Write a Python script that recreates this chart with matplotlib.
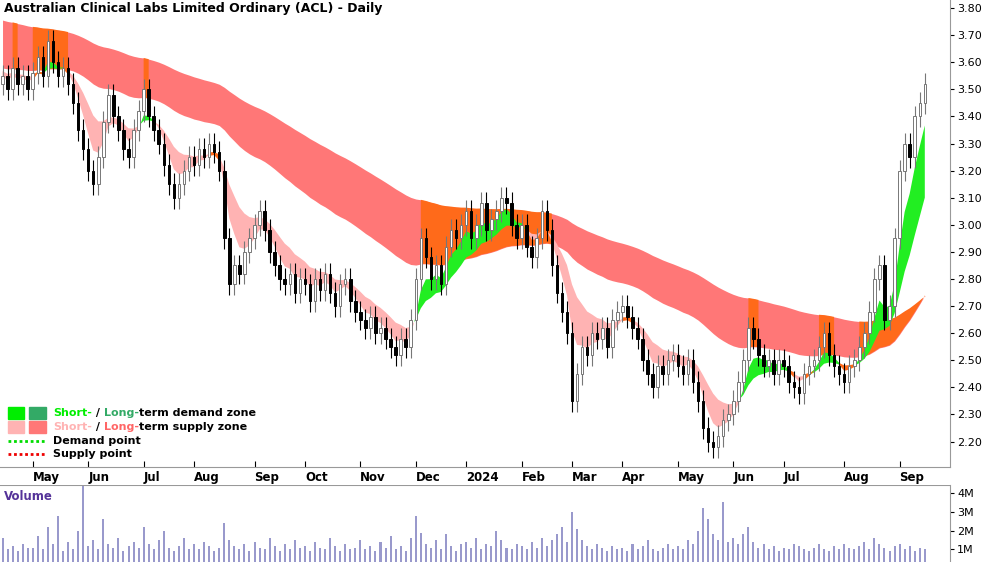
import numpy as np
import pandas as pd
import matplotlib
matplotlib.use('Agg')
import matplotlib.pyplot as plt
from matplotlib.patches import Rectangle

months = ['Apr', 'May', 'Jun', 'Jul', 'Aug', 'Sep', 'Oct', 'Nov', 'Dec', '2024',
          'Feb', 'Mar', 'Apr', 'May', 'Jun', 'Jul', 'Aug', 'Sep']
closes_by_month = [
    [3.55, 3.50, 3.58, 3.52, 3.55, 3.50],
    [3.56, 3.62, 3.55, 3.68, 3.60, 3.55, 3.58, 3.52, 3.45, 3.35, 3.28],
    [3.20, 3.15, 3.25, 3.38, 3.48, 3.40, 3.35, 3.28, 3.25, 3.35, 3.42],
    [3.50, 3.40, 3.35, 3.30, 3.22, 3.15, 3.10, 3.15, 3.20, 3.25],
    [3.22, 3.28, 3.25, 3.30, 3.27, 3.20, 2.95, 2.78, 2.85, 2.82, 2.90, 2.95],
    [3.00, 3.05, 2.98, 2.90, 2.85, 2.80, 2.78, 2.82, 2.75, 2.80],
    [2.78, 2.72, 2.80, 2.76, 2.82, 2.75, 2.70, 2.78, 2.80, 2.72, 2.68],
    [2.65, 2.62, 2.66, 2.60, 2.62, 2.58, 2.55, 2.52, 2.58, 2.55, 2.65],
    [2.80, 2.95, 2.88, 2.80, 2.85, 2.78, 2.92, 2.98, 2.95, 3.00],
    [3.05, 2.95, 3.00, 3.08, 2.98, 3.02, 3.05, 3.10, 3.08, 3.00, 2.95],
    [3.00, 2.92, 2.88, 2.95, 3.05, 2.98, 2.85, 2.75, 2.68, 2.60],
    [2.35, 2.45, 2.55, 2.52, 2.60, 2.58, 2.62, 2.55, 2.65, 2.68],
    [2.70, 2.66, 2.62, 2.58, 2.50, 2.45, 2.40, 2.48, 2.45, 2.50, 2.52],
    [2.48, 2.45, 2.50, 2.42, 2.35, 2.25, 2.20, 2.18, 2.22, 2.28, 2.30],
    [2.35, 2.42, 2.50, 2.62, 2.58, 2.52, 2.48, 2.50, 2.45, 2.50],
    [2.48, 2.42, 2.40, 2.38, 2.45, 2.48, 2.50, 2.55, 2.60, 2.52, 2.48, 2.45],
    [2.42, 2.48, 2.50, 2.55, 2.60, 2.68, 2.80, 2.85, 2.65, 2.70, 2.95],
    [3.20, 3.30, 3.25, 3.40, 3.45, 3.52],
]
volume_by_month = [
    [1.6, 1.0, 1.2, 0.9, 1.3, 1.1],
    [1.1, 1.7, 1.0, 2.2, 1.3, 2.8, 0.9, 1.4, 1.0, 2.0, 4.5],
    [1.2, 1.5, 1.0, 2.6, 1.3, 1.1, 1.6, 0.9, 1.2, 1.4, 1.1],
    [2.2, 1.3, 1.0, 1.5, 2.0, 1.1, 0.9, 1.2, 1.6, 1.0],
    [1.3, 1.0, 1.4, 1.2, 0.9, 1.1, 2.4, 1.5, 1.2, 1.0, 1.3, 0.9],
    [1.4, 1.1, 1.0, 1.6, 1.2, 0.9, 1.3, 1.0, 1.5, 1.1],
    [1.2, 0.9, 1.4, 1.1, 1.0, 1.6, 1.2, 0.9, 1.3, 1.0, 1.1],
    [1.5, 1.0, 1.2, 0.9, 1.4, 1.1, 1.7, 1.0, 1.2, 0.9, 1.6],
    [2.8, 1.9, 1.3, 1.1, 1.5, 1.0, 1.8, 1.2, 0.9, 1.3],
    [1.4, 1.1, 1.6, 1.0, 1.3, 1.2, 2.0, 1.5, 1.1, 1.0, 1.3],
    [1.2, 1.0, 1.4, 1.1, 1.6, 1.2, 1.5, 1.8, 2.2, 1.4],
    [3.0, 2.1, 1.5, 1.2, 1.0, 1.3, 1.1, 0.9, 1.2, 1.0],
    [1.1, 0.9, 1.3, 1.0, 1.2, 1.5, 1.0, 0.9, 1.1, 1.3, 1.0],
    [1.2, 1.0, 1.5, 1.3, 2.0, 3.2, 2.6, 1.8, 1.5, 3.5, 1.4],
    [1.6, 1.3, 1.8, 2.2, 1.4, 1.1, 1.3, 1.0, 1.2, 0.9],
    [1.1, 1.0, 1.3, 1.2, 1.0, 0.9, 1.1, 1.3, 1.0, 0.9, 1.2, 1.0],
    [1.3, 1.1, 1.0, 1.2, 1.4, 1.0, 1.6, 1.3, 1.1, 0.9, 1.2],
    [1.3, 1.0, 1.2, 0.9, 1.1, 1.0],
]

closes = np.array([c for m in closes_by_month for c in m])
volume = np.array([v for m in volume_by_month for v in m]) * 1e6
n = len(closes)
x = np.arange(n)
opens = np.r_[closes[0] - 0.03, closes[:-1]]
wick = 0.04
highs = np.maximum(opens, closes) + wick
lows = np.minimum(opens, closes) - wick

month_starts = np.cumsum([0] + [len(m) for m in closes_by_month])[:-1]


def ema(vals, span, seed):
    a = 2.0 / (span + 1)
    out = np.empty(len(vals))
    prev = seed
    for i, v in enumerate(vals):
        prev = prev + a * (v - prev)
        out[i] = prev
    return out


s_fast = ema(closes, 5, closes[0])
s_slow = ema(closes, 13, closes[0] + 0.02)
l_fast = ema(closes, 50, 3.58)
l_slow = ema(closes, 100, 3.76)

fig = plt.figure(figsize=(10, 5.62), dpi=100)
ax = fig.add_axes([0, 1 - 467 / 562, 0.95, 467 / 562])
axv = fig.add_axes([0, 0, 0.95, 77 / 562], sharex=ax)

# long-term zone: orange where price trades into / above it
l_hot = (highs > np.minimum(l_fast, l_slow) + 0.03) | (l_fast > l_slow)
ax.fill_between(x, l_fast, l_slow, color='#ff7777', lw=0, zorder=1)
ax.fill_between(x, l_fast, l_slow, where=l_hot, color='#ff6a1a', lw=0, zorder=1)
# short-term zone
s_up = s_fast > s_slow
ax.fill_between(x, s_fast, s_slow, where=~s_up, color='#ffb3b3', lw=0, interpolate=True, zorder=2)
ax.fill_between(x, s_fast, s_slow, where=s_up, color='#22ee22', lw=0, interpolate=True, zorder=2)
# orange where the short zone is flat
flat = np.abs(s_fast - s_slow) < 0.012
ax.fill_between(x, s_fast - 0.006, s_slow + 0.006, where=flat, color='#ff6a1a', lw=0, zorder=2)

# candles
for i in range(n):
    up = closes[i] >= opens[i]
    ax.vlines(x[i], lows[i], highs[i], color='#777777' if up else 'black', lw=0.8, zorder=3)
    lo = min(opens[i], closes[i])
    h = max(abs(closes[i] - opens[i]), 0.004)
    ax.add_patch(Rectangle((x[i] - 0.25, lo), 0.5, h, facecolor='white' if up else 'black',
                           edgecolor='#777777' if up else 'black', lw=0.7, zorder=4))

ax.set_xlim(-0.5, n + 4)
ax.set_ylim(2.106, 3.83)
ax.yaxis.tick_right()
ax.set_yticks(np.arange(2.2, 3.81, 0.1))
ax.set_yticklabels([f'{v:.2f}' for v in np.arange(2.2, 3.81, 0.1)], fontsize=8)
ax.tick_params(axis='y', length=3, pad=2, labelsize=8)
ax.set_xticks(month_starts[1:])
ax.set_xticklabels(months[1:], fontsize=8.5, fontweight='bold', ha='left')
ax.tick_params(axis='x', direction='in', length=4, pad=3, labelbottom=True)
for s in ['top', 'left']:
    ax.spines[s].set_visible(False)
ax.spines['bottom'].set_color('#999999')
ax.spines['right'].set_color('#999999')
ax.text(0.004, 0.995, 'Australian Clinical Labs Limited Ordinary (ACL) - Daily',
        transform=ax.transAxes, va='top', fontsize=9, fontweight='bold')


# legend
def multitext(xp, yp, parts):
    t = ax.text(xp, yp, parts[0][0], color=parts[0][1], transform=ax.transAxes,
                fontsize=8, va='center', fontweight='bold')
    for s, c in parts[1:]:
        t = ax.annotate(s, xy=(1, 0), xycoords=t, va='bottom', color=c,
                        fontsize=8, fontweight='bold')


rows = [(413, '#00ee00', '#33aa66', [('Short-', '#00ee00'), (' / ', 'black'), ('Long-', '#33aa66'), ('term demand zone', 'black')]),
        (427, '#ffb3b3', '#ff7777', [('Short-', '#ffb3b3'), (' / ', 'black'), ('Long-', '#ff6666'), ('term supply zone', 'black')])]
H = 467.0
for ypx, c1, c2, parts in rows:
    yy = 1 - ypx / H
    ax.add_patch(Rectangle((0.008, yy - 0.012), 0.017, 0.024, color=c1, transform=ax.transAxes, clip_on=False))
    ax.add_patch(Rectangle((0.031, yy - 0.012), 0.017, 0.024, color=c2, transform=ax.transAxes, clip_on=False))
    multitext(0.056, yy, parts)
for ypx, c, lab in [(441, '#00dd00', 'Demand point'), (454, '#ee0000', 'Supply point')]:
    yy = 1 - ypx / H
    ax.plot([0.008, 0.048], [yy, yy], transform=ax.transAxes, color=c, lw=2, ls=(0, (1, 1)))
    ax.text(0.056, yy, lab, transform=ax.transAxes, fontsize=8, va='center', fontweight='bold')

# volume
axv.bar(x, volume, width=0.4, color='#9999cc')
axv.set_ylim(0.33e6, 4.43e6)
axv.yaxis.tick_right()
axv.set_yticks([1e6, 2e6, 3e6, 4e6])
axv.set_yticklabels(['1M', '2M', '3M', '4M'], fontsize=8)
axv.tick_params(axis='y', length=3, pad=2)
axv.tick_params(axis='x', bottom=False, labelbottom=False)
for s in ['top', 'left', 'bottom']:
    axv.spines[s].set_visible(False)
axv.spines['right'].set_color('#999999')
axv.axhline(4.43e6, color='#999999', lw=1.5)
axv.text(0.004, 0.93, 'Volume', transform=axv.transAxes, va='top', fontsize=8.5,
         fontweight='bold', color='#553399')

fig.savefig('out.png', dpi=100)
